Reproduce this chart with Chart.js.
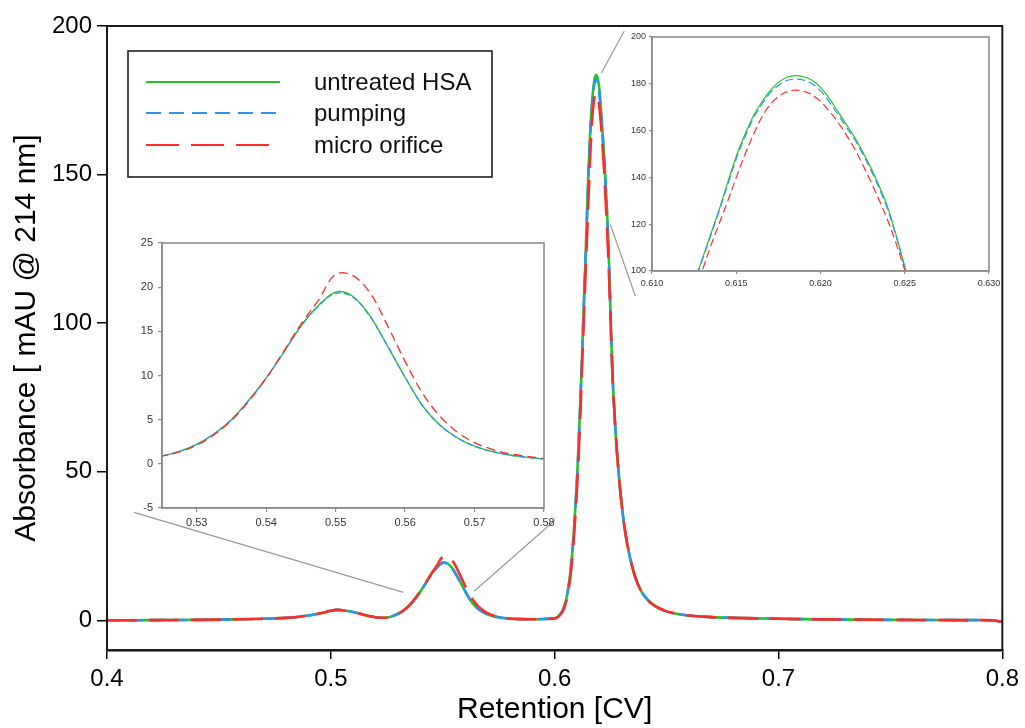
<!DOCTYPE html>
<html><head><meta charset="utf-8">
<script src="https://cdn.jsdelivr.net/npm/chart.js@4/dist/chart.umd.min.js"></script>
<style>
html,body{margin:0;padding:0;background:#fff;}
#wrap{position:relative;width:1025px;height:728px;overflow:hidden;}
canvas{position:absolute;left:0;top:0;}
</style></head><body>
<div id="wrap">
<canvas id="main" width="1025" height="728"></canvas>
<canvas id="inset1" width="1025" height="728"></canvas>
<canvas id="inset2" width="1025" height="728"></canvas>
</div>
<script>
// ---------------- DATA ----------------
const seriesNames = ['untreated HSA', 'pumping', 'micro orifice'];

const retention = [
  0.400, 0.420, 0.440, 0.460, 0.470, 0.480, 0.485, 0.490, 0.495, 0.500, 0.503, 0.505, 0.510, 0.515, 0.520, 0.5225,
  0.525, 0.5275, 0.530, 0.5325, 0.535, 0.5375, 0.540, 0.5425, 0.545, 0.5475, 0.550, 0.5525, 0.555, 0.5575, 0.560, 0.5625, 0.565, 0.5675, 0.570, 0.5725, 0.575, 0.5775, 0.580,
  0.585, 0.590, 0.595, 0.600, 0.602, 0.604, 0.606, 0.608, 0.610, 0.611,
  0.612, 0.6125, 0.613, 0.6135, 0.614, 0.6145, 0.615, 0.6155, 0.616, 0.6165, 0.617, 0.6175, 0.618, 0.6185, 0.619, 0.6195, 0.620, 0.6205, 0.621, 0.6215, 0.622, 0.6225, 0.623, 0.6235, 0.624, 0.6245, 0.625, 0.6255,
  0.626, 0.627, 0.628, 0.629, 0.630, 0.631, 0.632, 0.633, 0.634, 0.636, 0.638, 0.640, 0.643, 0.646, 0.650, 0.655, 0.660, 0.670, 0.680, 0.700, 0.720, 0.750, 0.780, 0.795, 0.800
];

const untreatedHSA = [
  0.0, 0.05, 0.15, 0.35, 0.5, 0.8, 1.1, 1.6, 2.3, 3.2, 3.5, 3.4, 2.8, 1.8, 1.05, 0.85,
  0.9, 1.4, 2.2, 3.4, 5.0, 7.2, 9.7, 12.6, 15.6, 17.9, 19.45, 18.95, 16.7, 13.3, 9.8, 6.6, 4.4, 2.95, 2.0, 1.4, 1.0, 0.75, 0.55,
  0.4, 0.35, 0.45, 0.7, 1.6, 4.1, 10.3, 24.0, 48.0, 65.0,
  84, 95, 105.5, 116, 126.5, 138, 149, 158, 166, 172, 177, 180.5, 182.8, 183.5, 183.0, 181.5, 178.5, 174, 168.5, 163, 157.5, 151, 144, 136, 127, 115, 102, 90,
  80, 66, 55, 46, 38.5, 32.5, 27.5, 23.5, 20, 14.5, 10.8, 8.3, 5.8, 4.3, 3.0, 2.1, 1.6, 1.05, 0.8, 0.5, 0.3, 0.15, 0.05, 0.0, -0.5
];

const pumping = [
  0.0, 0.05, 0.15, 0.35, 0.5, 0.8, 1.1, 1.6, 2.3, 3.2, 3.5, 3.4, 2.8, 1.8, 1.05, 0.85,
  0.9, 1.4, 2.2, 3.4, 5.0, 7.2, 9.7, 12.6, 15.6, 17.85, 19.3, 18.85, 16.6, 13.3, 9.8, 6.6, 4.4, 2.95, 2.0, 1.4, 1.0, 0.75, 0.55,
  0.4, 0.35, 0.45, 0.7, 1.6, 4.1, 10.3, 24.0, 47.8, 64.6,
  83.5, 94.5, 105, 115.5, 126, 137, 148, 157, 165, 171, 176, 179.3, 181.4, 182.0, 181.6, 180.0, 177.0, 172.5, 167.3, 161.8, 156.5, 150, 143, 135, 126, 114.5, 101.5, 89.5,
  80, 66, 55, 46, 38.5, 32.5, 27.5, 23.5, 20, 14.5, 10.8, 8.3, 5.8, 4.3, 3.0, 2.1, 1.6, 1.05, 0.8, 0.5, 0.3, 0.15, 0.05, 0.0, -0.5
];

const microOrifice = [
  0.0, 0.05, 0.15, 0.35, 0.5, 0.8, 1.1, 1.6, 2.3, 3.2, 3.5, 3.4, 2.8, 1.8, 1.05, 0.85,
  0.9, 1.35, 2.1, 3.3, 4.9, 7.1, 9.7, 12.7, 15.8, 18.5, 21.45, 21.3, 19.3, 15.6, 11.6, 8.0, 5.4, 3.6, 2.4, 1.65, 1.15, 0.85, 0.62,
  0.4, 0.35, 0.45, 0.65, 1.4, 3.6, 9.3, 22.0, 45.0, 61.0,
  80, 90.5, 100.5, 111, 120.5, 130, 140, 149.5, 158, 165.5, 171, 174.5, 176.6, 177.3, 176.8, 175.3, 172.5, 168.5, 164, 158.5, 152.5, 145.5, 138, 130, 121.5, 111.5, 100.5, 89.5,
  80, 66, 55, 46, 38.5, 32.5, 27.5, 23.5, 20, 14.5, 10.8, 8.3, 5.8, 4.3, 3.0, 2.1, 1.6, 1.05, 0.8, 0.5, 0.3, 0.15, 0.05, 0.0, -0.5
];

const mainXTicks = [0.4, 0.5, 0.6, 0.7, 0.8];
const mainYTicks = [0, 50, 100, 150, 200];
const inset1XTicks = [0.53, 0.54, 0.55, 0.56, 0.57, 0.58];
const inset1YTicks = [-5, 0, 5, 10, 15, 20, 25];
const inset2XTicks = [0.610, 0.615, 0.620, 0.625, 0.630];
const inset2YTicks = [100, 120, 140, 160, 180, 200];

// zoom guide lines (data coords of main chart)
const zoomGuides = [
  [[0.412, 36.3], [0.5324, 9.4]],
  [[0.564, 9.75], [0.600, 33.6]],
  [[0.6209, 184.2], [0.6311, 198.3]],
  [[0.6249, 133.1], [0.6360, 109.2]]
];

// ---------------- STYLE ----------------
const FONT = "'Liberation Sans', Arial, Helvetica, sans-serif";
Chart.defaults.font.family = FONT;
const seriesColors = ['#26c326', '#2f93ee', '#ff2b2b'];

function makeDatasets(widths, dashes) {
  const ys = [untreatedHSA, pumping, microOrifice];
  return ys.map((arr, i) => ({
    label: seriesNames[i],
    data: retention.map((x, j) => ({x: x, y: arr[j]})),
    borderColor: seriesColors[i],
    backgroundColor: seriesColors[i],
    borderWidth: widths[i],
    borderDash: dashes[i],
    pointRadius: 0,
    fill: false,
    tension: 0.35,
    order: 2 - i
  }));
}

const framePlugin = {
  id: 'frame',
  afterDatasetsDraw(chart, args, opts) {
    const a = chart.chartArea, ctx = chart.ctx;
    ctx.save();
    ctx.strokeStyle = opts.color || '#000';
    ctx.lineWidth = opts.width || 1;
    ctx.strokeRect(a.left, a.top, a.right - a.left, a.bottom - a.top);
    ctx.restore();
  }
};

const guidePlugin = {
  id: 'guides',
  beforeDatasetsDraw(chart) {
    const ctx = chart.ctx, xs = chart.scales.x, ys = chart.scales.y;
    ctx.save();
    ctx.strokeStyle = '#9a9a9a';
    ctx.lineWidth = 1.2;
    zoomGuides.forEach(g => {
      ctx.beginPath();
      ctx.moveTo(xs.getPixelForValue(g[0][0]), ys.getPixelForValue(g[0][1]));
      ctx.lineTo(xs.getPixelForValue(g[1][0]), ys.getPixelForValue(g[1][1]));
      ctx.stroke();
    });
    ctx.restore();
  }
};

const boxLegendPlugin = {
  id: 'boxLegend',
  afterDraw(chart) {
    const ctx = chart.ctx;
    const box = {x: 128, y: 51, w: 364, h: 126};
    ctx.save();
    ctx.fillStyle = '#fff';
    ctx.fillRect(box.x, box.y, box.w, box.h);
    ctx.strokeStyle = '#222';
    ctx.lineWidth = 1.6;
    ctx.strokeRect(box.x, box.y, box.w, box.h);
    const rows = [82, 113, 145];
    const dashes = [[], [15, 8], [33, 12]];
    chart.data.datasets.forEach((ds, i) => {
      ctx.beginPath();
      ctx.setLineDash(dashes[i]);
      ctx.strokeStyle = ds.borderColor;
      ctx.lineWidth = 2;
      ctx.moveTo(146, rows[i]);
      ctx.lineTo(280, rows[i]);
      ctx.stroke();
      ctx.setLineDash([]);
      ctx.fillStyle = '#111';
      ctx.font = '24px ' + FONT;
      ctx.textBaseline = 'middle';
      ctx.textAlign = 'left';
      ctx.fillText(ds.label, 314, rows[i] + 1);
    });
    ctx.restore();
  }
};

function axisCfg(o) {
  return {
    type: 'linear',
    min: o.min, max: o.max,
    afterBuildTicks: s => { s.ticks = o.ticks.map(v => ({value: v})); },
    afterFit: s => { if (o.size !== undefined) { if (o.horizontal) s.height = o.size; else s.width = o.size; } },
    ticks: {
      autoSkip: false, maxRotation: 0, minRotation: 0,
      callback: o.fmt,
      font: {size: o.fontSize, family: FONT},
      color: o.labelColor,
      padding: o.pad
    },
    grid: {display: true, drawOnChartArea: false, drawTicks: true, tickLength: o.tickLen, color: o.tickColor, lineWidth: o.tickWidth},
    border: {display: true, color: o.borderColor, width: o.borderWidth},
    title: o.title ? {display: true, text: o.title, font: {size: o.titleSize, family: FONT}, color: '#000', padding: o.titlePad} : {display: false}
  };
}

// ---------------- MAIN CHART ----------------
new Chart(document.getElementById('main'), {
  type: 'line',
  data: {datasets: makeDatasets([2.6, 2.6, 2.6], [[], [14, 8], [30, 12]])},
  options: {
    responsive: false, animation: false, devicePixelRatio: 1,
    layout: {padding: {left: 0, top: 26, right: 18, bottom: 0}},
    plugins: {legend: {display: false}, tooltip: {enabled: false}, frame: {color: '#1a1a1a', width: 2}},
    scales: {
      x: axisCfg({min: 0.4, max: 0.8, ticks: mainXTicks, fmt: v => v.toFixed(1), fontSize: 24, labelColor: '#000', pad: 6,
        tickLen: 9, tickColor: '#000', tickWidth: 1.5, borderColor: '#000', borderWidth: 2.4,
        title: 'Retention [CV]', titleSize: 30, titlePad: {top: 0, bottom: 0}, size: 78, horizontal: true}),
      y: axisCfg({min: -10, max: 200, ticks: mainYTicks, fmt: v => String(v), fontSize: 24, labelColor: '#000', pad: 5,
        tickLen: 10, tickColor: '#000', tickWidth: 1.5, borderColor: '#000', borderWidth: 2,
        title: 'Absorbance [ mAU @ 214 nm]', titleSize: 30, titlePad: {top: 9, bottom: 0}, size: 107, horizontal: false})
    }
  },
  plugins: [framePlugin, guidePlugin, boxLegendPlugin]
});

// ---------------- INSET 1 ----------------
new Chart(document.getElementById('inset1'), {
  type: 'line',
  data: {datasets: makeDatasets([1.3, 1.3, 1.3], [[], [6, 3], [9, 5]])},
  options: {
    responsive: false, animation: false, devicePixelRatio: 1,
    layout: {padding: {left: 132, top: 243, right: 481, bottom: 195}},
    plugins: {legend: {display: false}, tooltip: {enabled: false}, frame: {color: '#8c8c8c', width: 1.6}},
    scales: {
      x: axisCfg({min: 0.525, max: 0.58, ticks: inset1XTicks, fmt: v => v.toFixed(2), fontSize: 11, labelColor: '#333', pad: 4,
        tickLen: 4, tickColor: '#8c8c8c', tickWidth: 1.2, borderColor: '#8c8c8c', borderWidth: 1.6, size: 25, horizontal: true}),
      y: axisCfg({min: -5, max: 25, ticks: inset1YTicks, fmt: v => String(v), fontSize: 11, labelColor: '#333', pad: 5,
        tickLen: 4, tickColor: '#8c8c8c', tickWidth: 1.2, borderColor: '#8c8c8c', borderWidth: 1.6, size: 30, horizontal: false})
    }
  },
  plugins: [framePlugin]
});

// ---------------- INSET 2 ----------------
new Chart(document.getElementById('inset2'), {
  type: 'line',
  data: {datasets: makeDatasets([1.2, 1.2, 1.2], [[], [8, 4], [8, 4]])},
  options: {
    responsive: false, animation: false, devicePixelRatio: 1,
    layout: {padding: {left: 627, top: 37, right: 36, bottom: 435}},
    plugins: {legend: {display: false}, tooltip: {enabled: false}, frame: {color: '#8c8c8c', width: 1.6}},
    scales: {
      x: axisCfg({min: 0.61, max: 0.63, ticks: inset2XTicks, fmt: v => v.toFixed(3), fontSize: 9, labelColor: '#333', pad: 4,
        tickLen: 3, tickColor: '#8c8c8c', tickWidth: 1.2, borderColor: '#8c8c8c', borderWidth: 1.6, size: 22, horizontal: true}),
      y: axisCfg({min: 100, max: 200, ticks: inset2YTicks, fmt: v => String(v), fontSize: 9, labelColor: '#333', pad: 3,
        tickLen: 3, tickColor: '#8c8c8c', tickWidth: 1.2, borderColor: '#8c8c8c', borderWidth: 1.6, size: 25, horizontal: false})
    }
  },
  plugins: [framePlugin]
});
</script>
</body></html>
